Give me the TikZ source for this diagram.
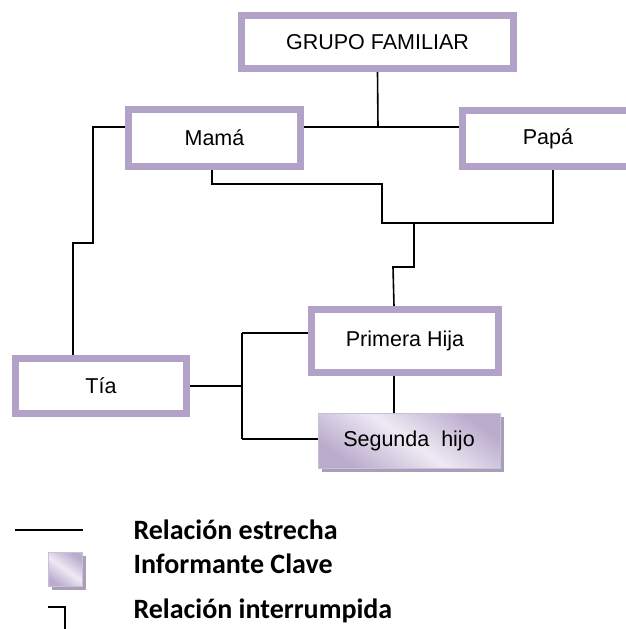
\documentclass[tikz,border=0pt]{standalone}
\usepackage{fontspec}
\setmainfont{Liberation Sans}
\newfontfamily\leyendafont{Carlito}
\usetikzlibrary{shadows}
\definecolor{lila}{RGB}{179,162,199}
\definecolor{lilaclaro}{RGB}{238,234,244}
\definecolor{sombra}{RGB}{168,160,184}

\begin{document}
\begin{tikzpicture}[x=1pt,y=-1pt,
	caja/.style={draw=lila, line width=7pt, fill=white, inner sep=0pt, font=\fontsize{21.5}{25}\selectfont},
	clave/.style={draw=lila!70, line width=0.6pt, left color=lila!90, right color=lila!90, middle color=lilaclaro, shading angle=-35, inner sep=0pt,
		drop shadow={shadow xshift=4pt, shadow yshift=-4pt, fill=sombra, opacity=1}, font=\fontsize{21.5}{25}\selectfont},
	leyenda/.style={anchor=base west, font=\leyendafont\bfseries\fontsize{28}{32}\selectfont},
	rel/.style={line width=1.6pt}]
		\useasboundingbox (0,0) rectangle (626,629);
		\clip (0,0) rectangle (626,629);
		
		\node[caja, minimum width=272pt, minimum height=53pt] (grupo) at (377.5,42) {GRUPO FAMILIAR};
		\node[caja, minimum width=172pt, minimum height=57pt] (mama) at (214.5,138) {Mamá};
		\node[caja, minimum width=172pt, minimum height=56pt] (papa) at (548,138.5) {Papá};
		\node[caja, minimum width=187pt, minimum height=63pt] (hija) at (405,341) {Primera Hija};
		\node[caja, minimum width=171pt, minimum height=55pt] (tia) at (101,386) {Tía};
		\node[clave, minimum width=182pt, minimum height=55pt] (hijo) at (409,440.5) {Segunda\ \ hijo};
		
		\coordinate (p1) at (378,127);
		\coordinate (p2) at (382,184);
		\coordinate (p3) at (414,223);
		\coordinate (p4) at (393,267);
		\coordinate (p5) at (93,127);
		\coordinate (p6) at (73,243);
		\coordinate (p7) at (242,333);
		\coordinate (p8) at (242,439);
		
		\draw[rel] (grupo.south) -- (p1);
		\draw[rel] (mama.east |- p1) -- (papa.west |- p1);
		\draw[rel] ([xshift=-2.5pt]mama.south) |- (p2) |- ([xshift=5pt]papa.south |- p3) -- ([xshift=5pt]papa.south);
		\draw[rel] (p3) |- (p4) -- ([xshift=-11pt]hija.north);
		\draw[rel] (mama.west |- p5) -- (p5) |- (p6) -- ([xshift=-28pt]tia.north);
		\draw[rel] (tia.east) -- (tia.east -| p7);
		\draw[rel] (p7) -- (p8);
		\draw[rel] (p7) -- (hija.west |- p7);
		\draw[rel] (p8) -- (hijo.west |- p8);
		\draw[rel] ([xshift=-11pt]hija.south) -- ([xshift=-15pt]hijo.north);
		
		% leyenda
		\coordinate (l1) at (15,530);
		\coordinate (l2) at (83,530);
		\coordinate (l3) at (48,607);
		\coordinate (l4) at (65,640);
		\draw[rel] (l1) -- (l2);
		\node[clave, minimum size=34pt] (cuadro) at (65,569) {};
		\draw[rel] (l3) -| (l4);
		\node[leyenda] (t1) at (130,539) {Relación estrecha};
		\node[leyenda] (t2) at (130,573) {Informante Clave};
		\node[leyenda] (t3) at (130,618) {Relación interrumpida};
\end{tikzpicture}
\end{document}
